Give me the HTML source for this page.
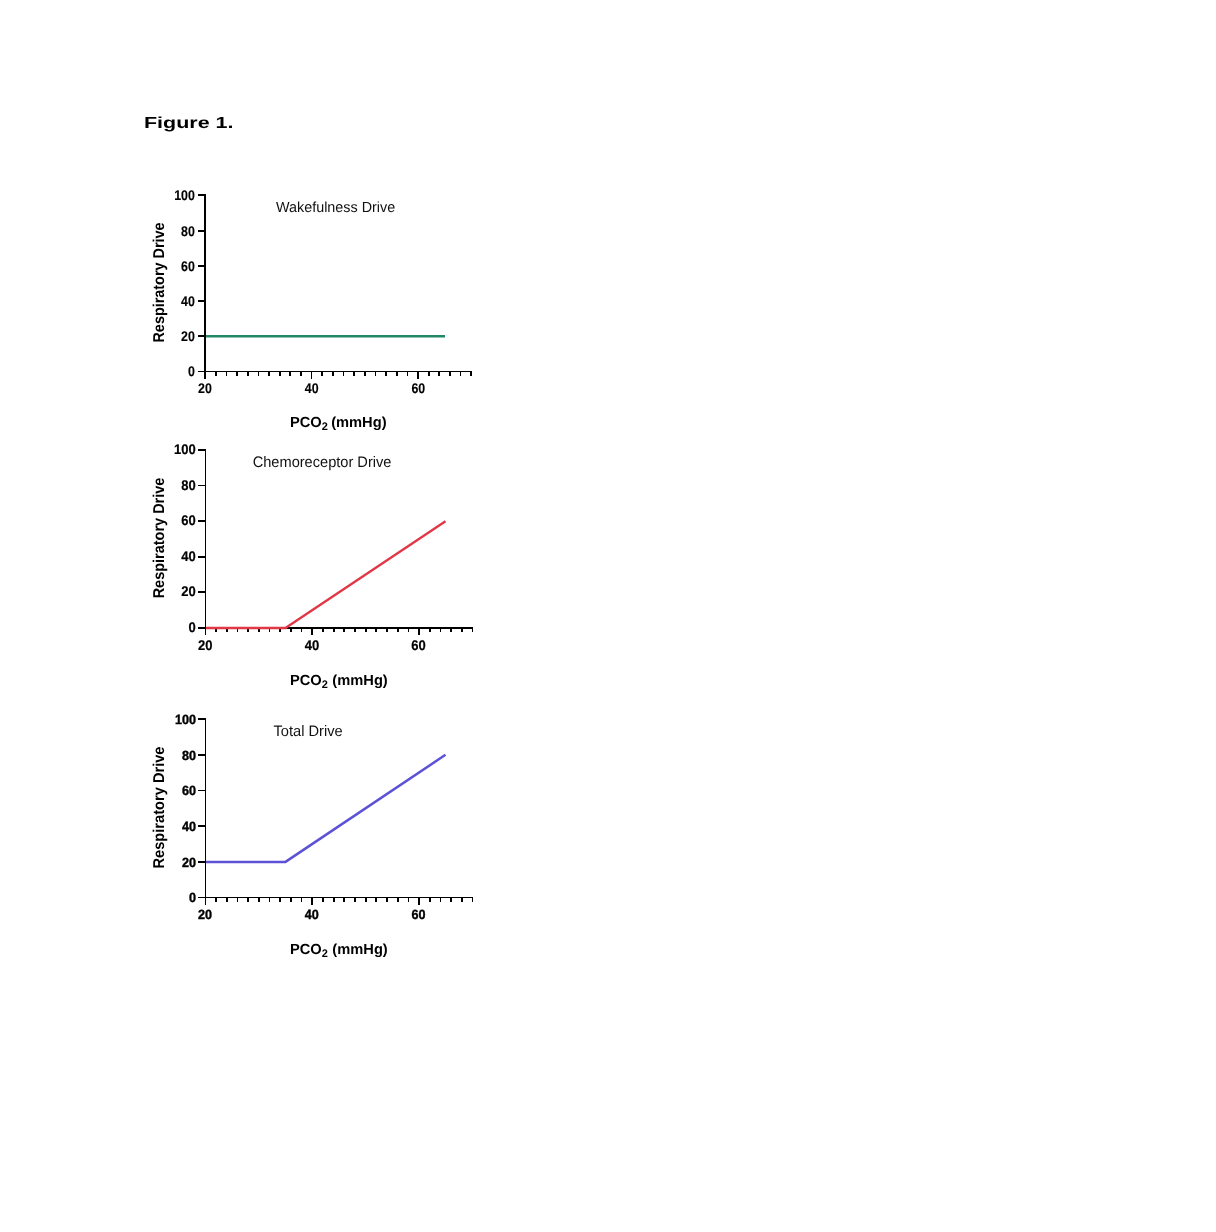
<!DOCTYPE html>
<html><head><meta charset="utf-8"><title>Figure 1</title>
<style>
html,body{margin:0;padding:0;background:#fff;}
body{width:1216px;height:1232px;position:relative;overflow:hidden;font-family:"Liberation Sans",sans-serif;color:#000;}
svg{position:absolute;left:0;top:0;}
text{text-rendering:geometricPrecision;}
.ax rect{fill:#000;shape-rendering:crispEdges;}
.tl{font-family:"Liberation Sans",sans-serif;font-weight:bold;fill:#000;stroke:#000;}
.ti{font:14.67px "Liberation Sans",sans-serif;fill:#111;}
.al{font:bold 14.67px "Liberation Sans",sans-serif;fill:#000;}
.yl{font:bold 15.7px "Liberation Sans",sans-serif;fill:#000;}
.sub{font-size:11px;}
.fig{font:bold 16px "Liberation Sans",sans-serif;fill:#000;}
</style></head><body>
<svg width="1216" height="1232" viewBox="0 0 1216 1232">
<text class="fig" transform="translate(144,127.7) scale(1.342,1)">Figure 1.</text>
<g class="ax">
<rect x="204" y="194" width="2" height="185"/>
<rect x="198" y="371" width="274" height="1"/>
<rect x="198" y="194" width="8" height="2"/>
<rect x="198" y="230" width="8" height="2"/>
<rect x="198" y="265" width="8" height="2"/>
<rect x="198" y="300" width="8" height="2"/>
<rect x="198" y="335" width="8" height="2"/>
<rect x="215" y="372" width="2" height="4"/>
<rect x="226" y="372" width="1" height="4"/>
<rect x="236" y="372" width="2" height="4"/>
<rect x="247" y="372" width="2" height="4"/>
<rect x="258" y="372" width="1" height="4"/>
<rect x="268" y="372" width="2" height="4"/>
<rect x="279" y="372" width="2" height="4"/>
<rect x="289" y="372" width="2" height="4"/>
<rect x="300" y="372" width="2" height="4"/>
<rect x="321" y="372" width="2" height="4"/>
<rect x="332" y="372" width="2" height="4"/>
<rect x="343" y="372" width="1" height="4"/>
<rect x="353" y="372" width="2" height="4"/>
<rect x="364" y="372" width="2" height="4"/>
<rect x="375" y="372" width="1" height="4"/>
<rect x="385" y="372" width="2" height="4"/>
<rect x="396" y="372" width="2" height="4"/>
<rect x="407" y="372" width="1" height="4"/>
<rect x="428" y="372" width="2" height="4"/>
<rect x="438" y="372" width="2" height="4"/>
<rect x="449" y="372" width="2" height="4"/>
<rect x="460" y="372" width="1" height="4"/>
<rect x="470" y="372" width="2" height="4"/>
<rect x="311" y="372" width="1" height="7"/>
<rect x="417" y="372" width="2" height="7"/>
</g>
<g stroke-width="0.12" font-size="14px">
<text class="tl" transform="translate(194.9,199.60) scale(0.885,1)" text-anchor="end">100</text>
<text class="tl" transform="translate(194.9,235.60) scale(0.885,1)" text-anchor="end">80</text>
<text class="tl" transform="translate(194.9,270.60) scale(0.885,1)" text-anchor="end">60</text>
<text class="tl" transform="translate(194.9,305.60) scale(0.885,1)" text-anchor="end">40</text>
<text class="tl" transform="translate(194.9,340.60) scale(0.885,1)" text-anchor="end">20</text>
<text class="tl" transform="translate(194.9,376.10) scale(0.885,1)" text-anchor="end">0</text>
<text class="tl" transform="translate(205.0,393.2) scale(0.885,1)" text-anchor="middle">20</text>
<text class="tl" transform="translate(311.7,393.2) scale(0.885,1)" text-anchor="middle">40</text>
<text class="tl" transform="translate(418.3,393.2) scale(0.885,1)" text-anchor="middle">60</text>
</g>
<text class="ti" transform="translate(276,212) scale(0.98,1.0)">Wakefulness Drive</text>
<text class="al" x="290" y="427.4">PCO<tspan class="sub" dy="3">2</tspan><tspan dy="-3" dx="-0.8"> (mmHg)</tspan></text>
<text class="yl" transform="translate(163.6,282.5) rotate(-90) scale(0.918,1)" text-anchor="middle">Respiratory Drive</text>
<g class="ax">
<rect x="205" y="449" width="1" height="186"/>
<rect x="198" y="627" width="275" height="2"/>
<rect x="198" y="449" width="8" height="2"/>
<rect x="198" y="485" width="8" height="1"/>
<rect x="198" y="520" width="8" height="2"/>
<rect x="198" y="556" width="8" height="2"/>
<rect x="198" y="591" width="8" height="2"/>
<rect x="215" y="629" width="2" height="3"/>
<rect x="226" y="629" width="2" height="3"/>
<rect x="237" y="629" width="1" height="3"/>
<rect x="247" y="629" width="2" height="3"/>
<rect x="258" y="629" width="2" height="3"/>
<rect x="269" y="629" width="1" height="3"/>
<rect x="279" y="629" width="2" height="3"/>
<rect x="290" y="629" width="2" height="3"/>
<rect x="301" y="629" width="1" height="3"/>
<rect x="322" y="629" width="2" height="3"/>
<rect x="333" y="629" width="2" height="3"/>
<rect x="343" y="629" width="2" height="3"/>
<rect x="354" y="629" width="2" height="3"/>
<rect x="365" y="629" width="2" height="3"/>
<rect x="375" y="629" width="2" height="3"/>
<rect x="386" y="629" width="2" height="3"/>
<rect x="397" y="629" width="2" height="3"/>
<rect x="408" y="629" width="1" height="3"/>
<rect x="429" y="629" width="2" height="3"/>
<rect x="440" y="629" width="1" height="3"/>
<rect x="450" y="629" width="2" height="3"/>
<rect x="461" y="629" width="2" height="3"/>
<rect x="472" y="629" width="1" height="3"/>
<rect x="311" y="629" width="2" height="6"/>
<rect x="418" y="629" width="2" height="6"/>
</g>
<g stroke-width="0.2" font-size="14px">
<text class="tl" transform="translate(195.7,454.10) scale(0.93,1)" text-anchor="end">100</text>
<text class="tl" transform="translate(195.7,489.60) scale(0.93,1)" text-anchor="end">80</text>
<text class="tl" transform="translate(195.7,525.10) scale(0.93,1)" text-anchor="end">60</text>
<text class="tl" transform="translate(195.7,561.10) scale(0.93,1)" text-anchor="end">40</text>
<text class="tl" transform="translate(195.7,596.10) scale(0.93,1)" text-anchor="end">20</text>
<text class="tl" transform="translate(195.7,632.10) scale(0.93,1)" text-anchor="end">0</text>
<text class="tl" transform="translate(205.2,650.1) scale(0.93,1)" text-anchor="middle">20</text>
<text class="tl" transform="translate(311.9,650.1) scale(0.93,1)" text-anchor="middle">40</text>
<text class="tl" transform="translate(418.5,650.1) scale(0.93,1)" text-anchor="middle">60</text>
</g>
<text class="ti" transform="translate(252.7,466.5) scale(0.996,1.04)">Chemoreceptor Drive</text>
<text class="al" x="290" y="684.7">PCO<tspan class="sub" dy="3">2</tspan><tspan dy="-3" dx="0.4"> (mmHg)</tspan></text>
<text class="yl" transform="translate(163.6,538.0) rotate(-90) scale(0.923,1)" text-anchor="middle">Respiratory Drive</text>
<g class="ax">
<rect x="205" y="718" width="1" height="187"/>
<rect x="198" y="897" width="275" height="1"/>
<rect x="198" y="718" width="8" height="2"/>
<rect x="198" y="754" width="8" height="2"/>
<rect x="198" y="790" width="8" height="1"/>
<rect x="198" y="825" width="8" height="2"/>
<rect x="198" y="861" width="8" height="2"/>
<rect x="215" y="898" width="2" height="4"/>
<rect x="226" y="898" width="2" height="4"/>
<rect x="237" y="898" width="1" height="4"/>
<rect x="247" y="898" width="2" height="4"/>
<rect x="258" y="898" width="2" height="4"/>
<rect x="269" y="898" width="1" height="4"/>
<rect x="279" y="898" width="2" height="4"/>
<rect x="290" y="898" width="2" height="4"/>
<rect x="301" y="898" width="1" height="4"/>
<rect x="322" y="898" width="2" height="4"/>
<rect x="333" y="898" width="2" height="4"/>
<rect x="343" y="898" width="2" height="4"/>
<rect x="354" y="898" width="2" height="4"/>
<rect x="365" y="898" width="2" height="4"/>
<rect x="375" y="898" width="2" height="4"/>
<rect x="386" y="898" width="2" height="4"/>
<rect x="397" y="898" width="2" height="4"/>
<rect x="408" y="898" width="1" height="4"/>
<rect x="429" y="898" width="2" height="4"/>
<rect x="440" y="898" width="1" height="4"/>
<rect x="450" y="898" width="2" height="4"/>
<rect x="461" y="898" width="2" height="4"/>
<rect x="472" y="898" width="1" height="4"/>
<rect x="311" y="898" width="2" height="7"/>
<rect x="418" y="898" width="2" height="7"/>
</g>
<g stroke-width="0.4" font-size="13.4px">
<text class="tl" transform="translate(195.9,723.70) scale(0.94,1)" text-anchor="end">100</text>
<text class="tl" transform="translate(195.9,759.70) scale(0.94,1)" text-anchor="end">80</text>
<text class="tl" transform="translate(195.9,795.20) scale(0.94,1)" text-anchor="end">60</text>
<text class="tl" transform="translate(195.9,830.70) scale(0.94,1)" text-anchor="end">40</text>
<text class="tl" transform="translate(195.9,866.70) scale(0.94,1)" text-anchor="end">20</text>
<text class="tl" transform="translate(195.9,902.20) scale(0.94,1)" text-anchor="end">0</text>
<text class="tl" transform="translate(205.1,919.1) scale(0.94,1)" text-anchor="middle">20</text>
<text class="tl" transform="translate(311.8,919.1) scale(0.94,1)" text-anchor="middle">40</text>
<text class="tl" transform="translate(418.4,919.1) scale(0.94,1)" text-anchor="middle">60</text>
</g>
<text class="ti" transform="translate(273.5,736) scale(1.0,1.03)">Total Drive</text>
<text class="al" x="290" y="953.7">PCO<tspan class="sub" dy="3">2</tspan><tspan dy="-3" dx="0.4"> (mmHg)</tspan></text>
<text class="yl" transform="translate(163.6,807.5) rotate(-90) scale(0.933,1)" text-anchor="middle">Respiratory Drive</text>
<line x1="206" y1="336.2" x2="445" y2="336.2" stroke="#228763" stroke-width="2.5"/>
<polyline points="206,628 285.5,628 445.5,521.2" fill="none" stroke="#e03846" stroke-width="2.4" stroke-linejoin="round"/>
<polyline points="206,861.9 285.5,861.9 445.5,754.8" fill="none" stroke="#5b52d6" stroke-width="2.5" stroke-linejoin="round"/>
</svg></body></html>
